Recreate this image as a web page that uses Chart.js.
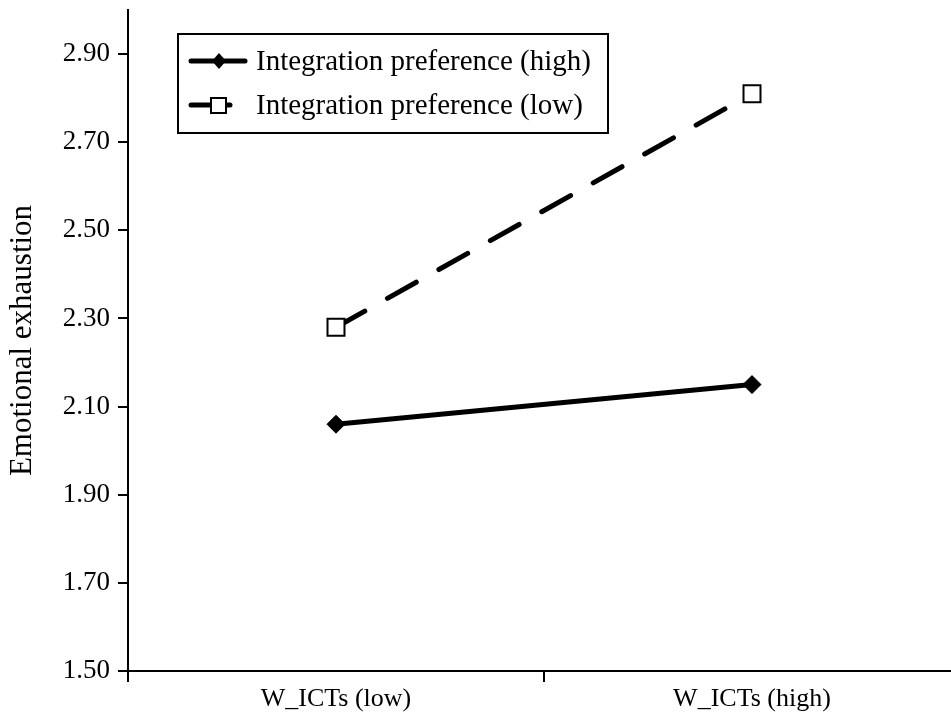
<!DOCTYPE html>
<html><head><meta charset="utf-8">
<script src="https://cdn.jsdelivr.net/npm/chart.js@4.4.0/dist/chart.umd.min.js"></script>
<style>
html,body{margin:0;padding:0;overflow:hidden;background:#fff;width:951px;height:722px}
#wrap{position:absolute;left:0;top:0;width:960px;height:722px}
canvas{display:block}
</style></head><body>
<div id="wrap"><canvas id="c" width="960" height="722"></canvas></div>
<script>
const categories = ['W_ICTs (low)', 'W_ICTs (high)'];
const highValues = [2.06, 2.15];
const lowValues = [2.28, 2.81];
const yTicks = [1.5, 1.7, 1.9, 2.1, 2.3, 2.5, 2.7, 2.9];
const seriesNames = ['Integration preference (high)', 'Integration preference (low)'];
const yTitle = 'Emotional exhaustion';

const FONT = "'Liberation Serif', 'Times New Roman', serif";

const legendPlugin = {
  id: 'boxLegend',
  afterDraw(chart) {
    const ctx = chart.ctx;
    ctx.save();
    ctx.strokeStyle = '#000';
    ctx.lineWidth = 2;
    ctx.strokeRect(178, 34, 430, 99);
    const rows = [61, 105];
    // high entry
    ctx.lineCap = 'round';
    ctx.lineWidth = 5;
    ctx.beginPath(); ctx.moveTo(191, rows[0]); ctx.lineTo(245, rows[0]); ctx.stroke();
    ctx.fillStyle = '#000';
    ctx.beginPath();
    ctx.moveTo(219, rows[0] - 8); ctx.lineTo(226, rows[0]); ctx.lineTo(219, rows[0] + 8); ctx.lineTo(212, rows[0]);
    ctx.closePath(); ctx.fill();
    // low entry
    ctx.beginPath(); ctx.moveTo(191, rows[1]); ctx.lineTo(230, rows[1]); ctx.stroke();
    ctx.fillStyle = '#fff';
    ctx.lineWidth = 2;
    ctx.fillRect(211, rows[1] - 7, 15, 15);
    ctx.strokeRect(211, rows[1] - 7, 15, 15);
    // text
    ctx.fillStyle = '#000';
    ctx.font = '29px ' + FONT;
    ctx.textBaseline = 'middle';
    ctx.textAlign = 'left';
    ctx.fillText(seriesNames[0], 256, rows[0] + 1);
    ctx.fillText(seriesNames[1], 256, rows[1] + 1);
    ctx.restore();
  }
};

new Chart(document.getElementById('c'), {
  type: 'line',
  data: {
    labels: categories,
    datasets: [
      {
        label: seriesNames[0],
        data: highValues,
        borderColor: '#000',
        borderWidth: 5,
        borderCapStyle: 'round',
        pointStyle: 'rectRot',
        pointRadius: 9,
        pointBackgroundColor: '#000',
        pointBorderColor: '#000',
        pointBorderWidth: 1,
        tension: 0,
        fill: false
      },
      {
        label: seriesNames[1],
        data: lowValues,
        borderColor: '#000',
        borderWidth: 5,
        borderCapStyle: 'round',
        borderDash: [33, 26],
        pointStyle: 'rect',
        pointRadius: 12,
        pointBackgroundColor: '#fff',
        pointBorderColor: '#000',
        pointBorderWidth: 2,
        tension: 0,
        fill: false
      }
    ]
  },
  options: {
    responsive: false,
    devicePixelRatio: 1,
    animation: false,
    layout: { autoPadding: false, padding: { top: 10, left: 0, right: 0, bottom: 0 } },
    plugins: { legend: { display: false }, tooltip: { enabled: false } },
    scales: {
      x: {
        offset: true,
        grid: { offset: true, drawOnChartArea: false, drawTicks: true, tickLength: 11, color: '#000', lineWidth: 2 },
        border: { display: true, color: '#000', width: 2 },
        ticks: { color: '#000', font: { family: FONT, size: 26 }, padding: 2, maxRotation: 0 },
        afterFit(s) { s.height = 51; s.paddingLeft = 0; s.paddingRight = 0; }
      },
      y: {
        min: 1.5,
        max: 3.0,
        afterBuildTicks(s) { s.ticks = yTicks.map(v => ({ value: v })); },
        grid: { drawOnChartArea: false, drawTicks: true, tickLength: 10, color: '#000', lineWidth: 2 },
        border: { display: true, color: '#000', width: 2 },
        ticks: { color: '#000', font: { family: FONT, size: 27 }, padding: 8, callback: v => Number(v).toFixed(2) },
        title: { display: true, text: yTitle, color: '#000', font: { family: FONT, size: 31 }, padding: { top: 4, bottom: 0 } },
        afterFit(s) { s.width = 128; s.paddingTop = 0; s.paddingBottom = 0; }
      }
    }
  },
  plugins: [legendPlugin]
});
</script>
</body></html>
